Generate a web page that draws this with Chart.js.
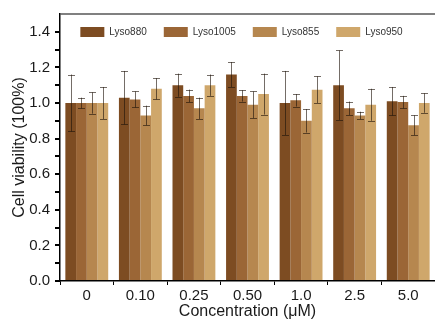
<!DOCTYPE html>
<html lang="en">
<head>
<meta charset="UTF-8">
<title>Cell viability</title>
<script src="https://cdn.jsdelivr.net/npm/chart.js"></script>
<style>
    html, body { margin: 0; padding: 0; background: #fff; }
    #wrap { width: 435px; height: 320px; }
</style>
</head>
<body>
<div id="wrap"><canvas id="viabilityChart"></canvas></div>
<script>
    // values (mean and +/- error)
    const concentrations = ['0', '0.10', '0.25', '0.50', '1.0', '2.5', '5.0'];
    const seriesNames = ['Lyso880', 'Lyso1005', 'Lyso855', 'Lyso950'];
    const lyso880 = [1.00, 1.03, 1.10, 1.16, 1.00, 1.10, 1.01];
    const lyso880Err = [0.16, 0.15, 0.065, 0.07, 0.18, 0.195, 0.08];
    const lyso1005 = [1.00, 1.02, 1.04, 1.04, 1.015, 0.97, 1.005];
    const lyso1005Err = [0.03, 0.045, 0.035, 0.032, 0.035, 0.038, 0.035];
    const lyso855 = [1.00, 0.93, 0.97, 0.99, 0.90, 0.93, 0.875];
    const lyso855Err = [0.06, 0.055, 0.06, 0.075, 0.066, 0.021, 0.056];
    const lyso950 = [1.00, 1.08, 1.10, 1.05, 1.075, 0.99, 1.00];
    const lyso950Err = [0.09, 0.06, 0.06, 0.115, 0.075, 0.09, 0.055];
    const yMax = 1.5;
    const yStep = 0.1;

    const colors = ['#7d4c22', '#9b6636', '#b6874f', '#cfa76b'];
    const font = 'Arial, "Liberation Sans", sans-serif';

    // error bars drawn at each bar's position
    const errorBars = {
        id: 'errorBars',
        afterDatasetsDraw(chart) {
            const ctx = chart.ctx;
            const y = chart.scales.y;
            ctx.save();
            ctx.strokeStyle = 'rgba(30,20,10,0.62)';
            ctx.lineWidth = 1;
            chart.data.datasets.forEach((ds, i) => {
                chart.getDatasetMeta(i).data.forEach((bar, j) => {
                    const top = y.getPixelForValue(ds.data[j] + ds.errors[j]);
                    const bottom = y.getPixelForValue(ds.data[j] - ds.errors[j]);
                    const x = Math.round(bar.x) + 0.5;
                    ctx.beginPath();
                    ctx.moveTo(x, top);
                    ctx.lineTo(x, bottom);
                    ctx.moveTo(x - 3.5, Math.round(top) + 0.5);
                    ctx.lineTo(x + 3.5, Math.round(top) + 0.5);
                    ctx.moveTo(x - 3.5, Math.round(bottom) + 0.5);
                    ctx.lineTo(x + 3.5, Math.round(bottom) + 0.5);
                    ctx.stroke();
                });
            });
            ctx.restore();
        }
    };

    // put the legend inside the plot frame
    const legendInside = {
        id: 'legendInside',
        beforeUpdate(chart) {
            if (chart.legend && !chart.legend._patched) {
                const fit = chart.legend.fit;
                chart.legend.fit = function () { fit.call(this); this.height = 0; };
                chart.legend._patched = true;
            }
        },
        afterLayout(chart) {
            chart.legend.left = 48;
            chart.legend.right = 435;
            chart.legend.top = 10;
            chart.legend.bottom = 45;
            chart.legend.height = 35;
        }
    };

    const ctx = document.getElementById('viabilityChart').getContext('2d');
    new Chart(ctx, {
        type: 'bar',
        data: {
            labels: concentrations,
            datasets: [
                { label: seriesNames[0], data: lyso880, errors: lyso880Err, backgroundColor: colors[0] },
                { label: seriesNames[1], data: lyso1005, errors: lyso1005Err, backgroundColor: colors[1] },
                { label: seriesNames[2], data: lyso855, errors: lyso855Err, backgroundColor: colors[2] },
                { label: seriesNames[3], data: lyso950, errors: lyso950Err, backgroundColor: colors[3] }
            ]
        },
        options: {
            responsive: true,
            maintainAspectRatio: false,
            animation: false,
            datasets: { bar: { categoryPercentage: 0.8, barPercentage: 1.0 } },
            layout: { padding: { left: 0, top: 14, right: -3, bottom: 0 } },
            plugins: {
                tooltip: { enabled: false },
                legend: {
                    position: 'top',
                    labels: {
                        boxWidth: 24,
                        boxHeight: 10,
                        padding: 17,
                        color: '#333',
                        font: { family: font, size: 10 }
                    }
                }
            },
            scales: {
                x: {
                    border: { color: '#000', width: 1.5 },
                    grid: { drawOnChartArea: false, offset: true, tickLength: 4, tickColor: '#000' },
                    ticks: { padding: 2, color: '#1a1a1a', font: { family: font, size: 15 } },
                    title: {
                        display: true,
                        text: 'Concentration (μM)',
                        color: '#1a1a1a',
                        font: { family: font, size: 16, lineHeight: 1.0 },
                        padding: { top: 0, bottom: 0 }
                    },
                    afterFit(s) { s.height = 39; }
                },
                y: {
                    min: 0,
                    max: yMax,
                    border: { color: '#000', width: 1.5 },
                    grid: {
                        drawOnChartArea: true,
                        color: c => (c.tick && c.tick.value >= yMax - 0.001) ? '#808080' : 'transparent',
                        lineWidth: 2,
                        tickLength: 5,
                        tickColor: c => (c.tick && c.tick.value >= yMax - 0.001) ? 'transparent' : '#000'
                    },
                    ticks: {
                        stepSize: yStep,
                        autoSkip: false,
                        padding: 5,
                        color: '#1a1a1a',
                        font: { family: font, size: 15 },
                        callback: v => (Math.round(v * 10) % 2 === 0 && v < yMax - 0.05) ? v.toFixed(1) : ''
                    },
                    title: {
                        display: true,
                        text: 'Cell viability (100%)',
                        color: '#1a1a1a',
                        font: { family: font, size: 16 },
                        padding: { top: 10, bottom: 0 }
                    },
                    afterFit(s) { s.width = 60; }
                }
            }
        },
        plugins: [errorBars, legendInside]
    });
</script>
</body>
</html>
